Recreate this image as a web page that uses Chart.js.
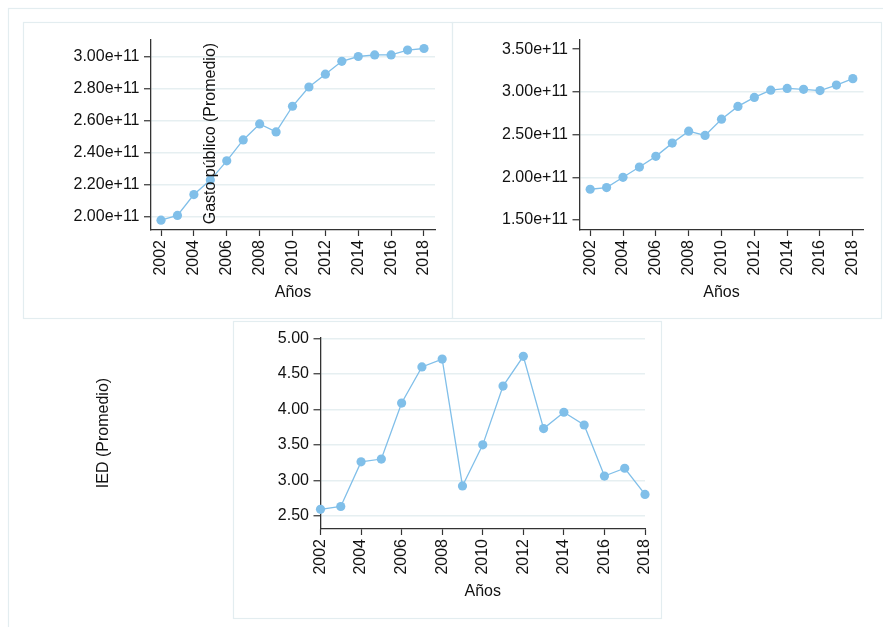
<!DOCTYPE html>
<html><head><meta charset="utf-8">
<script src="https://cdn.jsdelivr.net/npm/chart.js@4.4.1/dist/chart.umd.min.js"></script>
<style>
html,body{margin:0;padding:0;background:#fff;}
#wrap{position:relative;width:883px;height:627px;overflow:hidden;background:#fff;}
canvas{position:absolute;left:0;top:0;}
</style></head><body>
<div id="wrap">
<canvas id="c1" width="883" height="627"></canvas>
<canvas id="c2" width="883" height="627"></canvas>
<canvas id="c3" width="883" height="627"></canvas>
</div>
<script>
// ---------- data ----------
const years = [2002,2003,2004,2005,2006,2007,2008,2009,2010,2011,2012,2013,2014,2015,2016,2017,2018];
const gastoA = [1.98e11,2.01e11,2.14e11,2.23e11,2.35e11,2.48e11,2.58e11,2.53e11,2.69e11,2.81e11,2.89e11,2.97e11,3.00e11,3.01e11,3.01e11,3.04e11,3.05e11];
const gastoB = [1.86e11,1.88e11,2.00e11,2.12e11,2.245e11,2.40e11,2.54e11,2.49e11,2.68e11,2.83e11,2.935e11,3.02e11,3.04e11,3.03e11,3.015e11,3.08e11,3.155e11];
const ied = [2.59,2.63,3.26,3.30,4.09,4.60,4.71,2.92,3.50,4.33,4.75,3.73,3.96,3.78,3.06,3.17,2.80];
const yearTicks = [2002,2004,2006,2008,2010,2012,2014,2016,2018];
const gastoATicks = [2.0e11,2.2e11,2.4e11,2.6e11,2.8e11,3.0e11];
const gastoBTicks = [1.5e11,2.0e11,2.5e11,3.0e11,3.5e11];
const iedTicks = [2.5,3.0,3.5,4.0,4.5,5.0];
const xTitle = 'Años';
const gastoTitle = 'Gasto público (Promedio)';
const iedTitle = 'IED (Promedio)';

// ---------- style ----------
const FONT = '"Liberation Sans", Arial, Helvetica, sans-serif';
const TXT = '#111111';
const LINE = '#80bfe9';
const GRID = '#e6eff1';
const FRAME = '#e3edf0';
const AXIS = '#333333';
Chart.defaults.font.family = FONT;
Chart.defaults.font.size = 16;
Chart.defaults.color = TXT;

const AX_W = 100, AX_H = 90;

function makeChart(id, values, yTicks, fmt, area, xr, yr, hidden, plugins){
  const pts = years.map((y,i)=>({x:y, y:values[i]}));
  return new Chart(document.getElementById(id), {
    type:'line',
    data:{datasets:[{data:pts, borderColor:LINE, backgroundColor:LINE, borderWidth:1.3,
      pointRadius:4.6, pointBorderWidth:0, pointBackgroundColor:LINE, tension:0, clip:false}]},
    options:{
      responsive:false, animation:false, events:[],
      layout:{padding:{left:area.left-AX_W, right:883-area.right, top:area.top, bottom:627-area.bottom-AX_H}},
      plugins:{legend:{display:false}, tooltip:{enabled:false}},
      scales:{
        x:{type:'linear', min:xr[0], max:xr[1],
          afterBuildTicks:s=>{s.ticks=yearTicks.map(v=>({value:v}));},
          afterFit:s=>{s.height=AX_H;},
          ticks:{minRotation:90, maxRotation:90, padding:4, autoSkip:false, callback:v=>String(v), font:{size:16}, color:TXT},
          grid:{drawOnChartArea:false, drawTicks:true, tickLength:6, tickColor:AXIS, tickWidth:1.2},
          border:{display:true, color:AXIS, width:1.3},
          title:{display:true, text:xTitle, padding:{top:0,bottom:18}, font:{size:16}, color:TXT}
        },
        y:{type:'linear', min:yr[0], max:yr[1],
          afterBuildTicks:s=>{s.ticks=yTicks.map(v=>({value:v}));},
          afterFit:s=>{s.width=AX_W;},
          ticks:{padding:4.5, autoSkip:false, callback:fmt, font:{size:16}, color:TXT},
          grid:{drawTicks:true, tickLength:7, tickColor:AXIS, tickWidth:1.2, lineWidth:1.5,
            color:c=>(c.tick && hidden.includes(c.tick.value)) ? 'rgba(0,0,0,0)' : GRID},
          border:{display:true, color:AXIS, width:1.3}
        }
      }
    },
    plugins:plugins||[]
  });
}

const framePlugin = {
  id:'frames',
  beforeDraw(chart){
    const ctx = chart.ctx;
    ctx.save();
    ctx.fillStyle='#fff'; ctx.fillRect(0,0,883,627);
    ctx.strokeStyle=FRAME; ctx.lineWidth=1.2;
    ctx.strokeRect(8.5,8.5,900,700);
    ctx.strokeRect(23.5,22.5,429,296);
    ctx.strokeRect(452.5,22.5,429,296);
    ctx.strokeRect(233.5,321.5,428,297);
    ctx.restore();
  }
};
function rotTitle(text, bx, cy){
  return {
    id:'rt_'+text.length,
    afterDraw(chart){
      const ctx = chart.ctx;
      ctx.save();
      ctx.font = '16px '+FONT;
      ctx.fillStyle = TXT;
      ctx.translate(bx, cy);
      ctx.rotate(-Math.PI/2);
      ctx.textAlign='center'; ctx.textBaseline='alphabetic';
      ctx.fillText(text, 0, 0);
      ctx.restore();
    }
  };
}

const expFmt = v => Number(v).toExponential(2);
const fixFmt = v => Number(v).toFixed(2);

makeChart('c1', gastoA, gastoATicks, expFmt, {left:151,right:435,top:39.5,bottom:230},
  [2001.39,2018.67], [1.919e11,3.106e11], [], [framePlugin, rotTitle(gastoTitle,214.7,133.6)]);
makeChart('c2', gastoB, gastoBTicks, expFmt, {left:579.5,right:863.5,top:39.5,bottom:230},
  [2001.35,2018.65], [1.383e11,3.613e11], [1.5e11,3.5e11], []);
makeChart('c3', ied, iedTicks, fixFmt, {left:320.5,right:645,top:338,bottom:529},
  [2002,2018], [2.3125,5.008], [], [rotTitle(iedTitle,108.3,433)]);
</script>
</body></html>
